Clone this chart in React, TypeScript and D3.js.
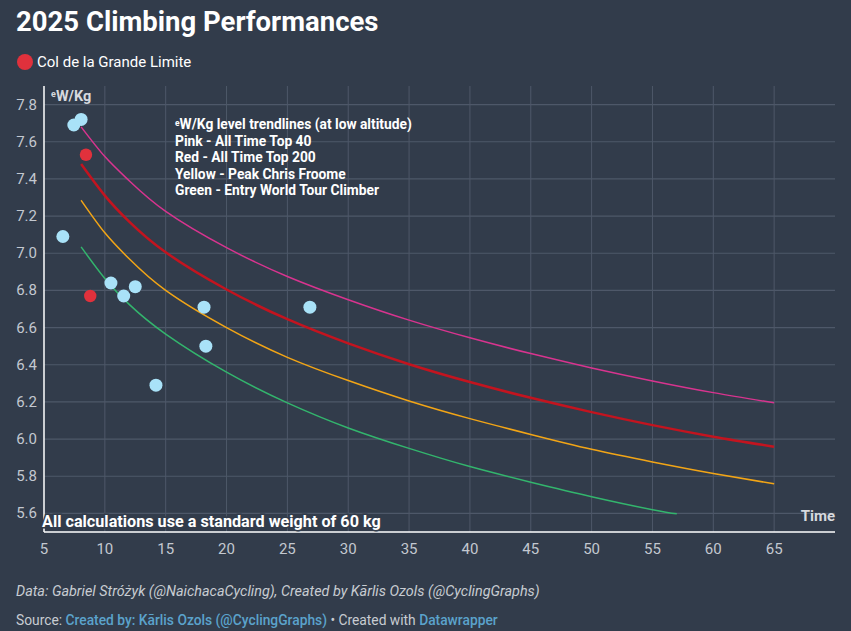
import React from "react";
import * as d3 from "d3";

const pointTimes = [7.45, 8.05, 6.55, 10.5, 11.55, 12.5, 18.15, 18.3, 14.2, 26.85];
const pointValues = [7.69, 7.72, 7.09, 6.84, 6.77, 6.82, 6.71, 6.50, 6.29, 6.71];
const highlightTimes = [8.45, 8.8];
const highlightValues = [7.53, 6.77];

const trendTimes = [8.05, 10, 12, 15, 20, 25, 30, 35, 40, 45, 50, 55, 60, 65];
const pinkValues = [7.68, 7.52, 7.39, 7.225, 7.03, 6.875, 6.75, 6.64, 6.545, 6.46, 6.383, 6.313, 6.25, 6.195];
const redValues = [7.48, 7.31, 7.17, 7.005, 6.805, 6.645, 6.515, 6.403, 6.307, 6.222, 6.145, 6.075, 6.013, 5.959];
const yellowValues = [7.285, 7.11, 6.97, 6.80, 6.60, 6.44, 6.315, 6.205, 6.11, 6.025, 5.945, 5.877, 5.815, 5.759];
const greenTimes = [8.05, 10, 12, 15, 20, 25, 30, 35, 40, 45, 50, 55, 57];
const greenValues = [7.034, 6.864, 6.725, 6.565, 6.36, 6.195, 6.06, 5.95, 5.852, 5.768, 5.69, 5.62, 5.598];

const xTicks = [5, 10, 15, 20, 25, 30, 35, 40, 45, 50, 55, 60, 65];
const yTicks = [5.6, 5.8, 6.0, 6.2, 6.4, 6.6, 6.8, 7.0, 7.2, 7.4, 7.6, 7.8];

const annotationLines = [
  "Pink - All Time Top 40",
  "Red - All Time Top 200",
  "Yellow - Peak Chris Froome",
  "Green - Entry World Tour Climber",
];

const W = 851;
const H = 631;
const FONT = "Roboto, 'Noto Sans', sans-serif";

export default function App() {
  const x = d3.scaleLinear().domain([5, 70]).range([44, 835]);
  const y = d3.scaleLinear().domain([5.5, 7.9]).range([532, 86]);

  const line = d3
    .line<[number, number]>()
    .x((d) => x(d[0]))
    .y((d) => y(d[1]))
    .curve(d3.curveNatural);

  const trends = [
    { t: trendTimes, v: pinkValues, color: "#d8348f", w: 1.5 },
    { t: trendTimes, v: redValues, color: "#c3141f", w: 2.5 },
    { t: trendTimes, v: yellowValues, color: "#f2a516", w: 1.5 },
    { t: greenTimes, v: greenValues, color: "#33b56d", w: 1.5 },
  ];

  return (
    <div style={{ position: "fixed", left: 0, top: 0, width: W, height: H }}>
      <svg width={W} height={H} style={{ display: "block", fontFamily: FONT }}>
        <rect width={W} height={H} fill="#323c4b" />
        <text x={16} y={31} fill="#ffffff" fontSize={27.5} fontWeight={700}>
          2025 Climbing Performances
        </text>
        <circle cx={25} cy={62} r={8} fill="#e0313c" />
        <text x={37} y={67} fill="#ffffff" fontSize={15}>
          Col de la Grande Limite
        </text>

        {/* grid */}
        {yTicks.map((t) => (
          <line key={"gy" + t} x1={44} x2={835} y1={y(t)} y2={y(t)} stroke="#4e5869" strokeWidth={1.2} />
        ))}
        {xTicks.filter((t) => t > 5).map((t) => (
          <line key={"gx" + t} x1={x(t)} x2={x(t)} y1={86} y2={532} stroke="#4e5869" strokeWidth={1} />
        ))}
        {/* axes */}
        <line x1={44} x2={44} y1={86} y2={532} stroke="#ffffff" strokeWidth={1.5} />
        <line x1={44} x2={835} y1={532} y2={532} stroke="#ffffff" strokeWidth={1.5} />

        {yTicks.map((t) => (
          <text key={"ty" + t} x={37} y={y(t) + 5} textAnchor="end" fill="#c3c8d0" fontSize={15}>
            {t.toFixed(1)}
          </text>
        ))}
        {xTicks.map((t) => (
          <text key={"tx" + t} x={x(t)} y={554} textAnchor="middle" fill="#c3c8d0" fontSize={15}>
            {t}
          </text>
        ))}

        <text x={51} y={101} fill="#d6d9de" fontSize={14.5} fontWeight={700}>
          <tspan fontSize={9} dy={-4}>e</tspan>
          <tspan dy={4}>W/Kg</tspan>
        </text>
        <text x={835} y={521} textAnchor="end" fill="#d6d9de" fontSize={15} fontWeight={700}>
          Time
        </text>

        {trends.map((tr, i) => (
          <path
            key={"tr" + i}
            d={line(tr.t.map((t, j) => [t, tr.v[j]] as [number, number])) || ""}
            fill="none"
            stroke={tr.color}
            strokeWidth={tr.w}
          />
        ))}

        {pointTimes.map((t, i) => (
          <circle key={"p" + i} cx={x(t)} cy={y(pointValues[i])} r={6.5} fill="#a9e2f8" />
        ))}
        {highlightTimes.map((t, i) => (
          <circle key={"h" + i} cx={x(t)} cy={y(highlightValues[i])} r={6.2} fill="#e0313c" />
        ))}

        <text x={175} y={129} fill="#ffffff" fontSize={13.8} fontWeight={700}>
          <tspan fontSize={8.5} dy={-3}>e</tspan>
          <tspan dy={3}>W/Kg level trendlines (at low altitude)</tspan>
        </text>
        {annotationLines.map((l, i) => (
          <text key={"a" + i} x={175} y={145.5 + i * 16.5} fill="#ffffff" fontSize={13.8} fontWeight={700}>
            {l}
          </text>
        ))}

        <text
          x={42}
          y={527}
          fill="#ffffff"
          fontSize={16.2}
          fontWeight={700}
          stroke="#323c4b"
          strokeWidth={3}
          paintOrder="stroke"
        >
          All calculations use a standard weight of 60 kg
        </text>

        <text x={16} y={596} fill="#c8ccd2" fontSize={14.4} fontStyle="italic">
          Data: Gabriel Stróżyk (@NaichacaCycling), Created by Kārlis Ozols (@CyclingGraphs)
        </text>
        <text x={16} y={625} fill="#c8ccd2" fontSize={13.8}>
          <tspan>Source: </tspan>
          <tspan fill="#5ba3cc" fontWeight={500}>Created by: Kārlis Ozols (@CyclingGraphs)</tspan>
          <tspan> • Created with </tspan>
          <tspan fill="#5ba3cc" fontWeight={500}>Datawrapper</tspan>
        </text>
      </svg>
    </div>
  );
}
